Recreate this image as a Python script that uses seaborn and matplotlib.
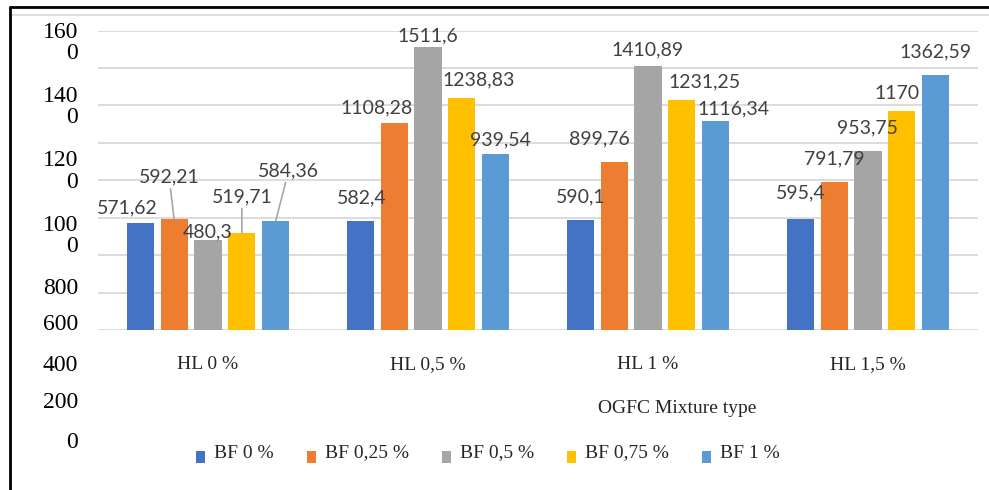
import pandas as pd
import matplotlib.pyplot as plt
from matplotlib.lines import Line2D
from matplotlib.patches import Patch, Rectangle
from matplotlib.legend_handler import HandlerPatch
import seaborn as sns

# ---------------------------------------------------------------------
# data
# ---------------------------------------------------------------------
mixtures = ["HL 0 %", "HL 0,5 %", "HL 1 %", "HL 1,5 %"]
fibres = ["BF 0 %", "BF 0,25 %", "BF 0,5 %", "BF 0,75 %", "BF 1 %"]

bf_0 = [571.62, 582.4, 590.1, 595.4]
bf_025 = [592.21, 1108.28, 899.76, 791.79]
bf_05 = [480.3, 1511.6, 1410.89, 953.75]
bf_075 = [519.71, 1238.83, 1231.25, 1170]
bf_1 = [584.36, 939.54, 1116.34, 1362.59]

# the y tick labels are wrapped in the original (text only)
y_tick_text = ["160\n0", "140\n0", "120\n0", "100\n0", "800", "600", "400", "200", "0"]

colors = ["#4472C4", "#ED7D31", "#A5A5A5", "#FFC000", "#5B9BD5"]

df = pd.DataFrame({
    "mixture": mixtures * 5,
    "fibre": [f for f in fibres for _ in mixtures],
    "value": bf_0 + bf_025 + bf_05 + bf_075 + bf_1,
})

# ---------------------------------------------------------------------
# layout (pixels on a 989x490 canvas)
# ---------------------------------------------------------------------
W, H = 989, 490
fx = lambda px: px / W
fy = lambda py: 1 - py / H

# label nudges (dx, up) in px, per fibre level then per mixture
label_shift = [
    [(-13, 15), (1, 23), (0, 22.5), (0, 25.5)],
    [(-5, 42), (-18, 14.5), (-15, 22.6), (0, 23)],
    [(0, 8), (0, 11), (0, 16), (0, 23.5)],
    [(0, 36), (17, 18), (22.5, 17.5), (-5, 17)],
    [(13, 50), (5, 14), (17.5, 12), (0, 23)],
]
leader = {(1, 0), (3, 0), (4, 0)}
y_label_pos = [43, 106.5, 171.5, 235.5, 288, 325, 365, 402, 442]


def low_square(legend, orig_handle, xdescent, ydescent, width, height, fontsize):
    # excel draws the legend keys a bit below the text
    return Rectangle((-xdescent, -ydescent - 0.55 * height), width, height)


sns.set_style("white")
plt.rcParams["font.family"] = ["Liberation Serif", "DejaVu Serif"]

fig = plt.figure(figsize=(W / 100, H / 100), dpi=100)
ax = fig.add_axes([fx(98), fy(330), fx(978) - fx(98), (330 - 30.5) / H])

sns.barplot(
    data=df, x="mixture", y="value", hue="fibre",
    order=mixtures, hue_order=fibres, palette=colors,
    saturation=1, width=0.77, gap=0.2, errorbar=None,
    linewidth=0, legend=False, ax=ax,
)

ax.set_ylim(0, 1600)
ax.set_yticks(range(0, 1601, 200))
ax.grid(axis="y", color="#D9D9D9", linewidth=1.3)
ax.set_axisbelow(True)
for s in ax.spines.values():
    s.set_visible(False)
ax.tick_params(axis="y", length=0, labelleft=False)
ax.tick_params(axis="x", length=0, pad=19, labelsize=14)
ax.set_xlabel("")
ax.set_ylabel("")

# data labels
for i, cont in enumerate(ax.containers):
    for j, bar in enumerate(cont):
        dx, up = label_shift[i][j]
        xc = bar.get_x() + bar.get_width() / 2
        props = None
        if (i, j) in leader:
            props = dict(arrowstyle="-", color="#A6A6A6", lw=1.2, shrinkA=0, shrinkB=0)
        ax.annotate(
            f"{bar.get_height():g}".replace(".", ","),
            xy=(xc, bar.get_height()),
            xytext=(dx * 0.72, up * 0.72), textcoords="offset points",
            ha="center", va="center", fontsize=14, color="#404040",
            family=["Lato", "DejaVu Sans"], arrowprops=props,
        )

# wrapped y tick labels
for txt, py in zip(y_tick_text, y_label_pos):
    fig.text(fx(78), fy(py), txt, ha="right", va="center", multialignment="right",
             fontsize=17, linespacing=1.0, color="#000000")

fig.text(fx(677), fy(408), "OGFC Mixture type", ha="center", va="center", fontsize=14)

handles = [Patch(facecolor=c, edgecolor="none") for c in colors]
fig.legend(
    handles, fibres, loc="center", bbox_to_anchor=(fx(488), fy(453)),
    ncol=5, frameon=False, fontsize=14, handlelength=0.46, handleheight=0.57,
    handletextpad=0.46, columnspacing=1.7, borderpad=0,
    handler_map={Patch: HandlerPatch(patch_func=low_square)},
)

# chart frame
fig.add_artist(Line2D([fx(10), fx(989)], [fy(15), fy(15)], color="#D9D9D9", lw=1.2))
fig.add_artist(Line2D([fx(10), fx(989)], [fy(7), fy(7)], color="black", lw=2))
fig.add_artist(Line2D([fx(10), fx(10)], [fy(7), fy(490)], color="black", lw=2))

fig.savefig("out.png", dpi=100)
